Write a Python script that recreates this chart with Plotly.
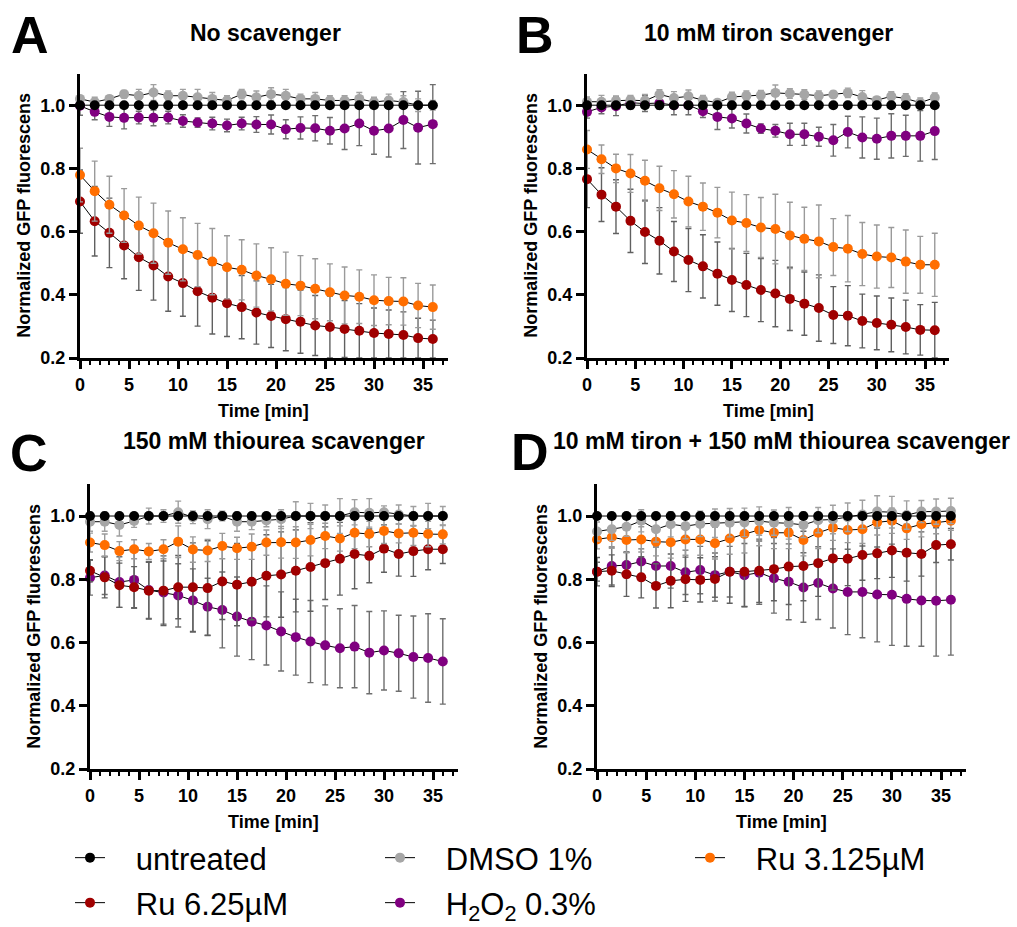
import plotly.graph_objects as go

W, H = 1017, 927

# ---------------- data ----------------
time_min = [0, 1.5, 3, 4.5, 6, 7.5, 9, 10.5, 12, 13.5, 15, 16.5, 18, 19.5, 21, 22.5,
            24, 25.5, 27, 28.5, 30, 31.5, 33, 34.5, 36]

series_names = ["untreated", "DMSO 1%", "Ru 3.125µM", "Ru 6.25µM", "H<sub>2</sub>O<sub>2</sub> 0.3%"]
series_colors = ["#000000", "#A6A6A6", "#FF6E00", "#A00000", "#800080"]
errbar_colors = ["#000000", "#A0A0A0", "#9A9A9A", "#606060", "#6E6E6E"]

panel_titles = ["No scavenger", "10 mM tiron scavenger", "150 mM thiourea scavenger",
                "10 mM tiron + 150 mM thiourea scavenger"]
panel_letters = ["A", "B", "C", "D"]
x_title = "Time [min]"
y_title = "Normalized GFP fluorescens"
y_ticks = [0.2, 0.4, 0.6, 0.8, 1.0]
x_ticks = [0, 5, 10, 15, 20, 25, 30, 35]

# Panel A: No scavenger
A_untreated = [1.0, 1.0, 1.0, 1.0, 1.0, 1.0, 1.0, 1.0, 1.0, 1.0, 1.0, 1.0, 1.0, 1.0, 1.0, 1.0, 1.0, 1.0, 1.0, 1.0, 1.0, 1.0, 1.0, 1.0, 1.0]
A_dmso = [1.02, 1.01, 1.02, 1.035, 1.03, 1.04, 1.03, 1.03, 1.025, 1.02, 1.015, 1.035, 1.025, 1.035, 1.03, 1.02, 1.02, 1.015, 1.015, 1.02, 1.01, 1.015, 1.01, 1.0, 1.0]
A_dmso_err = [0.01, 0.015, 0.01, 0.012, 0.02, 0.025, 0.015, 0.02, 0.025, 0.02, 0.015, 0.015, 0.02, 0.02, 0.02, 0.015, 0.02, 0.015, 0.015, 0.02, 0.015, 0.02, 0.02, 0.02, 0.015]
A_ru3 = [0.779, 0.728, 0.685, 0.651, 0.619, 0.595, 0.565, 0.544, 0.526, 0.505, 0.487, 0.479, 0.461, 0.449, 0.435, 0.429, 0.419, 0.408, 0.398, 0.394, 0.383, 0.38, 0.379, 0.366, 0.361]
A_ru3_err = [0.085, 0.095, 0.09, 0.085, 0.09, 0.095, 0.1, 0.1, 0.1, 0.105, 0.1, 0.095, 0.1, 0.1, 0.1, 0.095, 0.095, 0.09, 0.09, 0.085, 0.08, 0.075, 0.075, 0.07, 0.07]
A_ru6 = [0.695, 0.633, 0.596, 0.556, 0.519, 0.493, 0.458, 0.437, 0.411, 0.391, 0.373, 0.361, 0.344, 0.333, 0.323, 0.315, 0.303, 0.298, 0.292, 0.286, 0.279, 0.276, 0.273, 0.263, 0.26]
A_ru6_err = [0.1, 0.11, 0.11, 0.105, 0.105, 0.11, 0.11, 0.105, 0.11, 0.115, 0.105, 0.1, 0.1, 0.1, 0.1, 0.1, 0.095, 0.098, 0.09, 0.086, 0.079, 0.076, 0.073, 0.063, 0.06]
A_h2o2 = [0.998, 0.979, 0.963, 0.96, 0.961, 0.96, 0.961, 0.95, 0.945, 0.942, 0.936, 0.942, 0.939, 0.939, 0.924, 0.928, 0.927, 0.919, 0.926, 0.942, 0.919, 0.926, 0.953, 0.929, 0.94]
A_h2o2_err = [0.03, 0.025, 0.03, 0.035, 0.02, 0.025, 0.02, 0.02, 0.015, 0.02, 0.02, 0.02, 0.025, 0.03, 0.03, 0.035, 0.04, 0.042, 0.066, 0.07, 0.074, 0.09, 0.09, 0.115, 0.125]

# Panel B: 10 mM tiron
B_untreated = [1.0, 1.0, 1.0, 1.0, 1.0, 1.0, 1.0, 1.0, 1.0, 1.0, 1.0, 1.0, 1.0, 1.0, 1.0, 1.0, 1.0, 1.0, 1.0, 1.0, 1.0, 1.0, 1.0, 1.0, 1.0]
B_dmso = [1.011, 1.011, 1.014, 1.016, 1.014, 1.034, 1.023, 1.028, 1.016, 1.008, 1.026, 1.03, 1.032, 1.039, 1.037, 1.034, 1.03, 1.034, 1.039, 1.026, 1.016, 1.028, 1.021, 1.008, 1.024]
B_dmso_err = [0.015, 0.02, 0.015, 0.015, 0.02, 0.015, 0.02, 0.02, 0.015, 0.01, 0.015, 0.015, 0.015, 0.025, 0.015, 0.015, 0.015, 0.01, 0.015, 0.02, 0.01, 0.015, 0.015, 0.015, 0.015]
B_ru3 = [0.86, 0.829, 0.8, 0.784, 0.761, 0.737, 0.718, 0.695, 0.679, 0.66, 0.635, 0.627, 0.613, 0.608, 0.588, 0.577, 0.569, 0.551, 0.546, 0.529, 0.521, 0.518, 0.505, 0.495, 0.495]
B_ru3_err = [0.06, 0.045, 0.045, 0.06, 0.065, 0.07, 0.075, 0.08, 0.075, 0.08, 0.09, 0.09, 0.095, 0.11, 0.105, 0.1, 0.115, 0.09, 0.105, 0.1, 0.1, 0.095, 0.1, 0.09, 0.1]
B_ru6 = [0.766, 0.717, 0.679, 0.634, 0.599, 0.571, 0.537, 0.51, 0.49, 0.467, 0.447, 0.431, 0.415, 0.404, 0.387, 0.372, 0.358, 0.336, 0.334, 0.317, 0.311, 0.305, 0.298, 0.289, 0.288]
B_ru6_err = [0.09, 0.085, 0.085, 0.1, 0.1, 0.105, 0.095, 0.1, 0.1, 0.1, 0.1, 0.1, 0.1, 0.105, 0.1, 0.1, 0.105, 0.09, 0.095, 0.085, 0.085, 0.085, 0.085, 0.08, 0.088]
B_h2o2 = [0.979, 0.993, 0.997, 1.008, 1.005, 1.007, 1.0, 1.0, 0.981, 0.963, 0.958, 0.942, 0.926, 0.919, 0.908, 0.908, 0.9, 0.889, 0.915, 0.898, 0.894, 0.903, 0.903, 0.903, 0.918]
B_h2o2_err = [0.02, 0.02, 0.03, 0.02, 0.025, 0.02, 0.03, 0.03, 0.02, 0.04, 0.03, 0.03, 0.015, 0.02, 0.035, 0.035, 0.03, 0.05, 0.05, 0.065, 0.065, 0.07, 0.065, 0.08, 0.09]

# Panel C: 150 mM thiourea
C_untreated = [1.0, 1.0, 1.0, 1.0, 1.0, 1.0, 1.0, 1.0, 1.0, 1.0, 1.0, 1.0, 1.0, 1.0, 1.0, 1.0, 1.0, 1.0, 1.0, 1.0, 1.0, 1.0, 1.0, 1.0, 1.0]
C_dmso = [0.982, 0.982, 0.972, 0.984, 1.0, 1.0, 1.012, 0.996, 0.99, 1.0, 0.982, 0.982, 0.986, 0.99, 1.0, 1.0, 1.0, 1.0, 1.012, 1.01, 1.012, 1.005, 1.0, 1.0, 1.0]
C_dmso_err = [0.03, 0.03, 0.035, 0.02, 0.025, 0.02, 0.035, 0.02, 0.03, 0.015, 0.03, 0.025, 0.02, 0.03, 0.045, 0.04, 0.035, 0.055, 0.04, 0.045, 0.02, 0.03, 0.03, 0.04, 0.03]
C_ru3 = [0.916, 0.908, 0.889, 0.895, 0.888, 0.895, 0.919, 0.894, 0.891, 0.905, 0.898, 0.903, 0.916, 0.917, 0.916, 0.924, 0.937, 0.929, 0.947, 0.943, 0.953, 0.945, 0.947, 0.943, 0.942]
C_ru3_err = [0.03, 0.035, 0.03, 0.03, 0.025, 0.03, 0.05, 0.04, 0.035, 0.04, 0.035, 0.04, 0.04, 0.05, 0.05, 0.05, 0.04, 0.04, 0.05, 0.04, 0.04, 0.03, 0.04, 0.04, 0.03]
C_ru6 = [0.827, 0.806, 0.781, 0.775, 0.764, 0.764, 0.775, 0.775, 0.772, 0.793, 0.783, 0.792, 0.811, 0.815, 0.827, 0.839, 0.851, 0.865, 0.88, 0.874, 0.897, 0.88, 0.889, 0.895, 0.895]
C_ru6_err = [0.035, 0.065, 0.07, 0.065, 0.09, 0.11, 0.1, 0.14, 0.15, 0.12, 0.13, 0.12, 0.13, 0.135, 0.13, 0.14, 0.115, 0.115, 0.11, 0.085, 0.075, 0.07, 0.08, 0.065, 0.045]
C_h2o2 = [0.805, 0.812, 0.791, 0.798, 0.766, 0.758, 0.749, 0.733, 0.713, 0.703, 0.682, 0.666, 0.654, 0.635, 0.617, 0.603, 0.591, 0.582, 0.587, 0.568, 0.575, 0.566, 0.554, 0.551, 0.54]
C_h2o2_err = [0.055, 0.06, 0.08, 0.09, 0.09, 0.1, 0.1, 0.1, 0.09, 0.12, 0.125, 0.12, 0.125, 0.125, 0.12, 0.13, 0.125, 0.125, 0.13, 0.13, 0.125, 0.12, 0.13, 0.14, 0.135]

# Panel D: 10 mM tiron + 150 mM thiourea
D_untreated = [1.0, 1.0, 1.0, 1.0, 1.0, 1.0, 1.0, 1.0, 1.0, 1.0, 1.0, 1.0, 1.0, 1.0, 1.0, 1.0, 1.0, 1.0, 1.0, 1.0, 1.0, 1.0, 1.0, 1.0, 1.0]
D_dmso = [0.951, 0.958, 0.966, 0.985, 0.958, 0.974, 0.968, 0.975, 0.977, 0.979, 0.98, 0.984, 0.979, 0.977, 0.972, 0.987, 0.989, 0.996, 1.005, 1.014, 1.012, 1.003, 1.014, 1.014, 1.016]
D_dmso_err = [0.03, 0.035, 0.03, 0.035, 0.04, 0.04, 0.04, 0.04, 0.045, 0.045, 0.045, 0.045, 0.04, 0.05, 0.04, 0.04, 0.045, 0.045, 0.045, 0.05, 0.05, 0.045, 0.035, 0.04, 0.04]
D_ru3 = [0.926, 0.933, 0.924, 0.926, 0.919, 0.917, 0.926, 0.926, 0.914, 0.929, 0.943, 0.956, 0.947, 0.947, 0.924, 0.947, 0.963, 0.956, 0.958, 0.98, 0.985, 0.961, 0.974, 0.979, 0.985]
D_ru3_err = [0.03, 0.035, 0.04, 0.04, 0.045, 0.05, 0.05, 0.05, 0.05, 0.05, 0.06, 0.05, 0.05, 0.05, 0.05, 0.05, 0.04, 0.04, 0.045, 0.04, 0.04, 0.035, 0.04, 0.035, 0.03]
D_ru6 = [0.824, 0.827, 0.816, 0.806, 0.779, 0.795, 0.8, 0.798, 0.801, 0.824, 0.824, 0.827, 0.832, 0.84, 0.842, 0.851, 0.866, 0.865, 0.877, 0.882, 0.891, 0.884, 0.88, 0.908, 0.911]
D_ru6_err = [0.045, 0.05, 0.07, 0.065, 0.07, 0.085, 0.07, 0.07, 0.07, 0.1, 0.11, 0.1, 0.1, 0.12, 0.11, 0.105, 0.1, 0.085, 0.08, 0.08, 0.085, 0.09, 0.07, 0.055, 0.05]
D_h2o2 = [0.824, 0.842, 0.845, 0.856, 0.842, 0.842, 0.822, 0.829, 0.813, 0.824, 0.813, 0.821, 0.803, 0.792, 0.774, 0.788, 0.771, 0.76, 0.76, 0.752, 0.751, 0.738, 0.733, 0.732, 0.735]
D_h2o2_err = [0.03, 0.06, 0.04, 0.04, 0.06, 0.07, 0.07, 0.075, 0.07, 0.08, 0.1, 0.1, 0.11, 0.12, 0.11, 0.115, 0.125, 0.135, 0.145, 0.15, 0.16, 0.15, 0.145, 0.175, 0.175]

panels = [
    [A_untreated, A_dmso, A_ru3, A_ru6, A_h2o2],
    [B_untreated, B_dmso, B_ru3, B_ru6, B_h2o2],
    [C_untreated, C_dmso, C_ru3, C_ru6, C_h2o2],
    [D_untreated, D_dmso, D_ru3, D_ru6, D_h2o2],
]
panel_errs = [
    [None, A_dmso_err, A_ru3_err, A_ru6_err, A_h2o2_err],
    [None, B_dmso_err, B_ru3_err, B_ru6_err, B_h2o2_err],
    [None, C_dmso_err, C_ru3_err, C_ru6_err, C_h2o2_err],
    [None, D_dmso_err, D_ru3_err, D_ru6_err, D_h2o2_err],
]

# ---------------- layout geometry (pixels) ----------------
# (y-axis x position, px per minute, y pixel of 1.1, y pixel of 0.2)
geom = [
    (80, 9.80, 73.6, 358.0),
    (587, 9.66, 73.6, 358.0),
    (90, 9.80, 484.4, 769.0),
    (597, 9.83, 484.4, 769.0),
]
X_MAX = 37.5
FONT = "Arial, Liberation Sans, sans-serif"
NB = "\u00a0"


def px(x):
    return x / W


def py(y):
    return 1 - y / H


fig = go.Figure()
layout_axes = {}
annotations = []

draw_order = [4, 3, 2, 1, 0]
for p in range(4):
    xa = "x" if p == 0 else f"x{p + 1}"
    ya = "y" if p == 0 else f"y{p + 1}"
    for s in draw_order:
        err = panel_errs[p][s]
        legend_id = "legend" if s < 3 else "legend2"
        fig.add_trace(go.Scatter(
            x=time_min, y=panels[p][s], xaxis=xa, yaxis=ya,
            mode="lines+markers", name=NB * 3 + series_names[s],
            line=dict(color="black", width=1),
            marker=dict(color=series_colors[s], size=10, line=dict(width=0)),
            error_y=(dict(type="data", array=err, visible=True, color=errbar_colors[s],
                          thickness=1.4, width=3) if err is not None else None),
            cliponaxis=False,
            showlegend=(p == 0), legend=legend_id, legendrank=s,
        ))

    x0, ppm, ytop, ybot = geom[p]
    x1 = x0 + X_MAX * ppm
    sfx = "" if p == 0 else str(p + 1)
    layout_axes["xaxis" + sfx] = dict(
        domain=[px(x0), px(x1)], range=[0, X_MAX], anchor=ya, automargin=False,
        showline=True, linecolor="black", linewidth=3, showgrid=False, zeroline=False,
        ticks="outside", ticklen=8, tickwidth=2.5, tickcolor="black",
        tickvals=x_ticks, tickfont=dict(family=FONT, size=18, color="black", weight="bold"),
        minor=dict(dtick=1, tick0=0, ticks="outside", ticklen=4, tickwidth=2, tickcolor="black"),
    )
    layout_axes["yaxis" + sfx] = dict(
        domain=[py(ybot), py(ytop)], range=[0.2, 1.1], anchor=xa, automargin=False,
        showline=True, linecolor="black", linewidth=3, showgrid=False, zeroline=False,
        ticks="outside", ticklen=8, tickwidth=2.5, tickcolor="black",
        tickvals=y_ticks, ticktext=[f"{v:.1f}" for v in y_ticks],
        tickfont=dict(family=FONT, size=18, color="black", weight="bold"),
    )
    # axis titles
    annotations.append(dict(x=px((x0 + x1) / 2), y=py(ybot + 53), xref="paper", yref="paper",
                            text=x_title, showarrow=False, xanchor="center", yanchor="middle",
                            font=dict(family=FONT, size=18, color="black", weight="bold")))
    annotations.append(dict(x=px(x0 - 56), y=py((ytop + ybot) / 2), xref="paper", yref="paper",
                            text=y_title, showarrow=False, textangle=-90,
                            xanchor="center", yanchor="middle",
                            font=dict(family=FONT, size=18, color="black", weight="bold")))

# titles & letters
title_pos = [(265, 33), (768, 33), (274, 441), (781, 441)]
letter_pos = [(30, 35), (535, 35), (29, 453), (530, 452)]
for p in range(4):
    tx, ty = title_pos[p]
    annotations.append(dict(x=px(tx), y=py(ty), xref="paper", yref="paper", text=panel_titles[p],
                            showarrow=False, xanchor="center", yanchor="middle",
                            font=dict(family=FONT, size=23, color="black", weight="bold")))
    lx, ly = letter_pos[p]
    annotations.append(dict(x=px(lx), y=py(ly), xref="paper", yref="paper", text=panel_letters[p],
                            showarrow=False, xanchor="center", yanchor="middle",
                            font=dict(family=FONT, size=52, color="black", weight="bold")))

legend_common = dict(orientation="h", xanchor="left", yanchor="middle",
                     font=dict(family=FONT, size=31, color="black"), entrywidth=265,
                     itemwidth=30, bgcolor="rgba(0,0,0,0)", tracegroupgap=0,
                     traceorder="normal", borderwidth=0)

fig.update_layout(
    template="none",
    width=W, height=H, margin=dict(l=0, r=0, t=0, b=0, pad=0, autoexpand=False),
    paper_bgcolor="white", plot_bgcolor="white",
    annotations=annotations,
    legend=dict(x=px(70), y=py(858), **legend_common),
    legend2=dict(x=px(70), y=py(903), **legend_common),
    **layout_axes,
)

fig.write_html("out.html")
